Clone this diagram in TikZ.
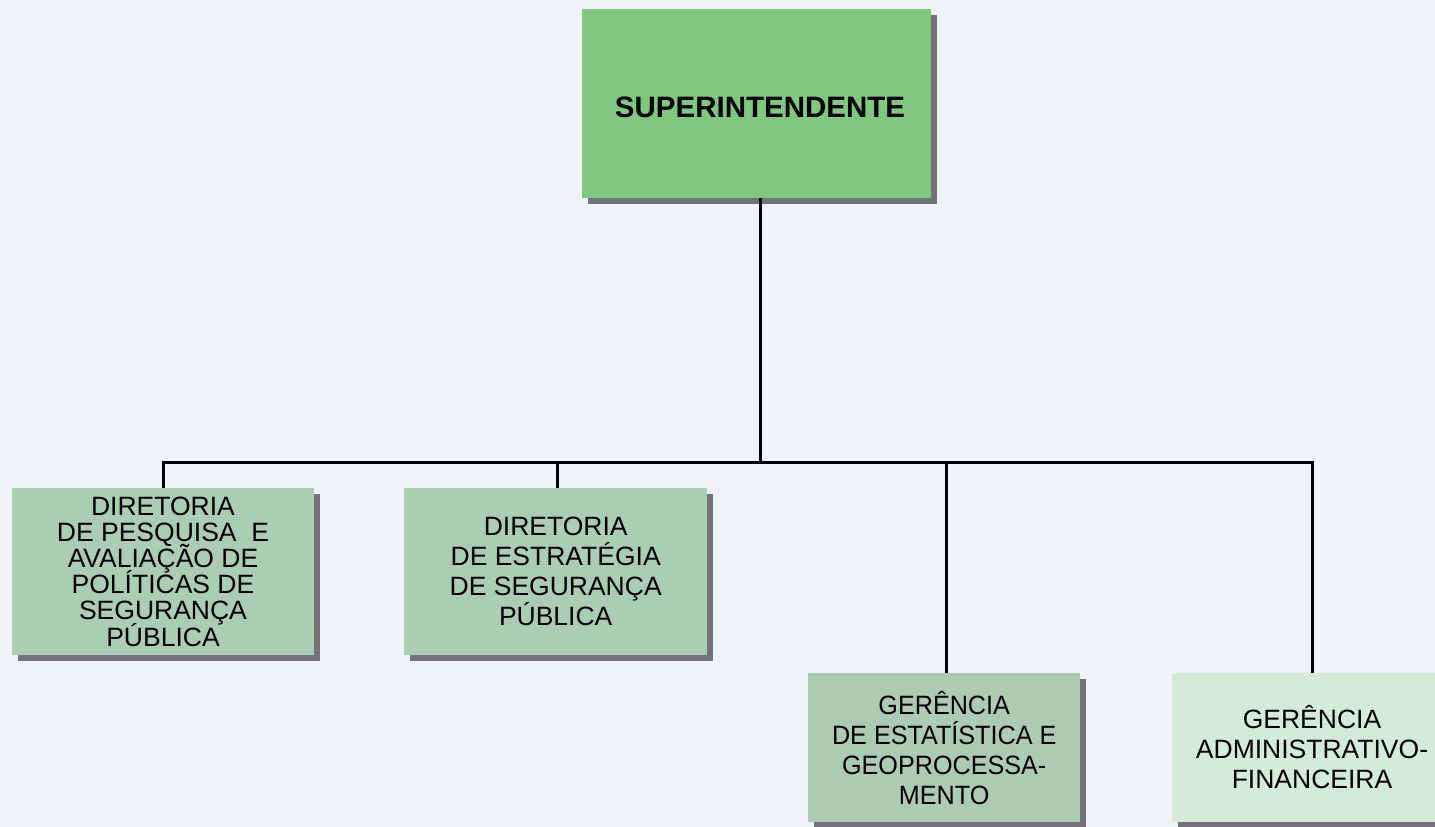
\documentclass[tikz,border=0pt]{standalone}
\usepackage{fontspec}
\setmainfont{Liberation Sans}
\usetikzlibrary{shadows}
\newcommand\mynoskip{\lineskiplimit=-100pt\relax}
\definecolor{bgc}{HTML}{EEF3F8}
\definecolor{topc}{HTML}{80C880}
\definecolor{dirc}{HTML}{ABCDB4}
\definecolor{gerc}{HTML}{ABCBB3}
\definecolor{admc}{HTML}{D5EBDA}
\definecolor{shc}{HTML}{737377}
\tikzset{
  orgbox/.style={rectangle, draw=none, anchor=north west, inner sep=0pt,
    drop shadow={shadow xshift=6pt, shadow yshift=-6pt, fill=shc, opacity=1}},
  txt/.style={align=center, inner sep=0pt, font=\fontsize{26.5}{30}\selectfont\mynoskip},
  wire/.style={line width=3pt, black}
}
\begin{document}
\begin{tikzpicture}[x=1pt,y=1pt]
\fill[bgc] (0,0) rectangle (1435,-827);
\useasboundingbox (0,0) rectangle (1435,-827);
\clip (0,0) rectangle (1435,-827);
% boxes
\node[orgbox, fill=topc, minimum width=349pt, minimum height=189pt] (sup) at (582,-9) {};
\node[orgbox, fill=dirc, minimum width=302pt, minimum height=167pt] (d1) at (12,-488) {};
\node[orgbox, fill=dirc, minimum width=303pt, minimum height=167pt] (d2) at (404,-488) {};
\node[orgbox, fill=gerc, minimum width=272pt, minimum height=149pt] (g1) at (808,-673) {};
\node[orgbox, fill=admc, minimum width=280pt, minimum height=149pt] (g2) at (1172,-673) {};
% texts
\node[txt, font=\bfseries\fontsize{29.5}{32}\selectfont] (supt) at (760,-107) {SUPERINTENDENTE};
\node[txt, font=\fontsize{26.5}{26.2}\selectfont\mynoskip] (d1t) at (163,-571.5) {DIRETORIA\\ DE PESQUISA\ \ E\\ AVALIAÇÃO DE\\ POLÍTICAS DE\\ SEGURANÇA\\ PÚBLICA};
\node[txt] (d2t) at (d2.center) {DIRETORIA\\ DE ESTRATÉGIA\\ DE SEGURANÇA\\ PÚBLICA};
\node[txt, xscale=0.95, transform shape] (g1t) at (g1.center) {GERÊNCIA\\ DE ESTATÍSTICA E\\ GEOPROCESSA-\\ MENTO};
\node[txt] (g2t) at (1312,-747) {GERÊNCIA\\ ADMINISTRATIVO-\\ FINANCEIRA};
% connectors
\coordinate (bus) at (760,-462);
\coordinate (busl) at (163,-462);
\coordinate (busr) at (1312,-462);
\draw[wire] (sup.south -| bus) -- (bus);
\draw[wire, line cap=rect] (busl) -- (busr);
\draw[wire] (busl) -- (busl |- d1.north);
\draw[wire] (557,-462) -- (557,-488) coordinate (d2top);
\draw[wire] (946,-462) -- (946,-673) coordinate (g1top);
\draw[wire] (busr) -- (busr |- g2.north);
\end{tikzpicture}
\end{document}
